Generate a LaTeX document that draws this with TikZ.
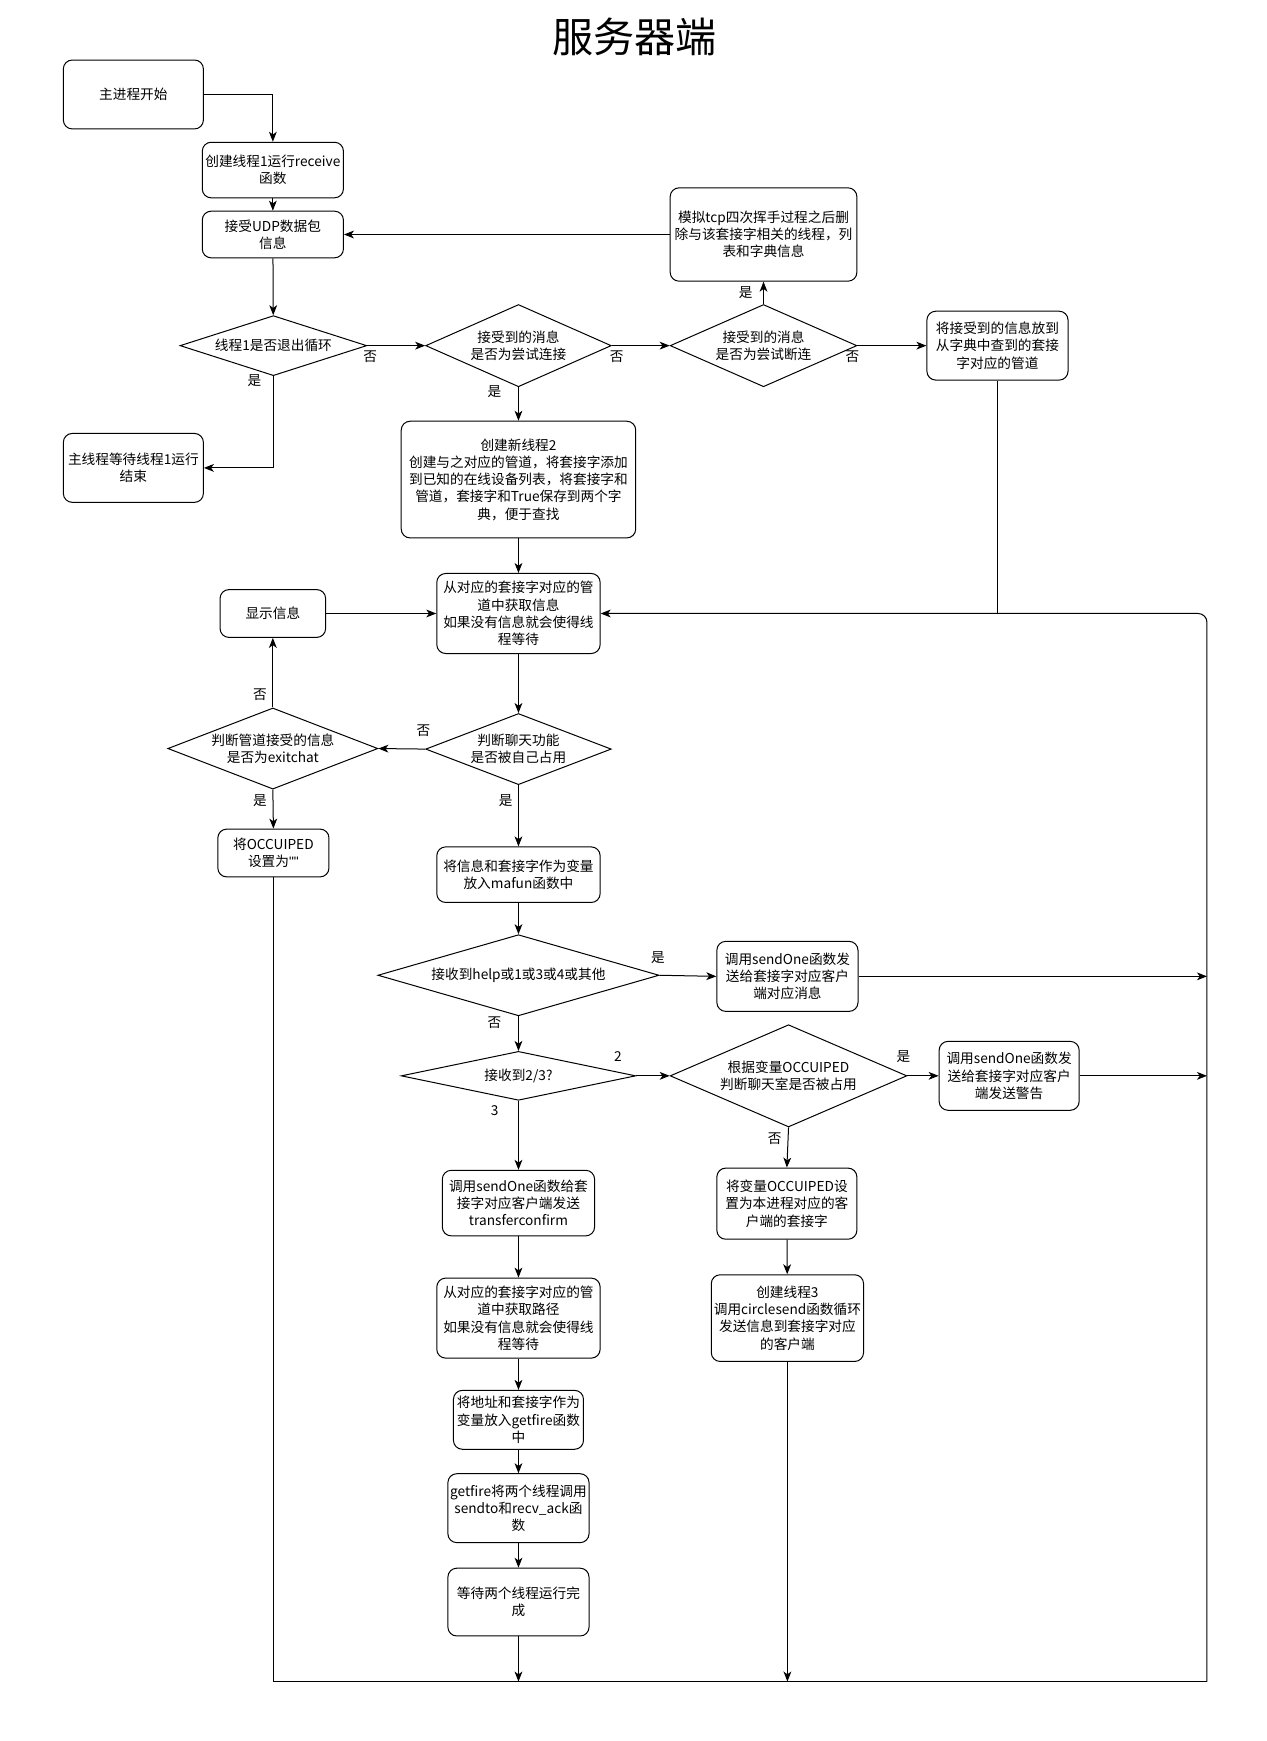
\documentclass[tikz,border=0pt]{standalone}
\usepackage{fontspec}
\setmainfont{Noto Sans CJK SC}
\newfontfamily\latinf{Liberation Sans}
\usetikzlibrary{shapes.geometric,arrows.meta}
\begin{document}
\begin{tikzpicture}[x=1pt,y=-1pt,
  every node/.style={font=\fontsize{12.3}{15.5}\selectfont, align=center},
  box/.style={draw, line width=0.9pt, rounded corners=8pt, inner sep=0pt},
  dia/.style={draw, line width=0.9pt, diamond, inner sep=0pt},
  arr/.style={line width=0.9pt, -{Stealth[length=9pt,width=7pt,inset=2.5pt]}},
  ln/.style={line width=0.9pt},
  lab/.style={inner sep=0pt}]
\useasboundingbox (0,0) rectangle (1140,1566.5);
\node (title) at (571,33) {\fontsize{37}{40}\selectfont 服务器端};

% boxes
\node[box, minimum width=126pt, minimum height=62pt] (n1) at (120,85) {主进程开始};
\node[box, minimum width=127pt, minimum height=50pt] (n2) at (245.5,153) {创建线程1运行receive\\函数};
\node[box, minimum width=127pt, minimum height=42pt] (n3) at (245.5,211) {接受UDP数据包\\信息};
\node[dia, minimum width=168pt, minimum height=54pt, label={[align=center]center:线程1是否退出循环}] (d4) at (246,311) {};
\node[box, minimum width=126pt, minimum height=62pt] (n5) at (120,421) {主线程等待线程1运行\\结束};
\node[dia, minimum width=167pt, minimum height=74pt, label={[align=center]center:接受到的消息\\是否为尝试连接}] (d6) at (466.5,311) {};
\node[dia, minimum width=168pt, minimum height=74pt, label={[align=center]center:接受到的消息\\是否为尝试断连}] (d7) at (687,311) {};
\node[box, minimum width=168pt, minimum height=84pt] (n8) at (687,211) {模拟tcp四次挥手过程之后删\\除与该套接字相关的线程，列\\表和字典信息};
\node[box, minimum width=127pt, minimum height=62pt] (n9) at (897.5,311) {将接受到的信息放到\\从字典中查到的套接\\字对应的管道};
\node[box, minimum width=211pt, minimum height=105pt] (n10) at (466.5,431.5) {创建新线程2\\创建与之对应的管道，将套接字添加\\到已知的在线设备列表，将套接字和\\管道，套接字和True保存到两个字\\典，便于查找};
\node[box, minimum width=147pt, minimum height=72pt] (n11) at (466.5,552) {从对应的套接字对应的管\\道中获取信息\\如果没有信息就会使得线\\程等待};
\node[box, minimum width=95pt, minimum height=43pt] (n12) at (245.5,552) {显示信息};
\node[dia, minimum width=189pt, minimum height=73pt, label={[align=center]center:判断管道接受的信息\\是否为exitchat}] (d13) at (245.5,673.5) {};
\node[dia, minimum width=167pt, minimum height=64pt, label={[align=center]center:判断聊天功能\\是否被自己占用}] (d14) at (466.5,674) {};
\node[box, minimum width=100pt, minimum height=43pt] (n15) at (246,767.5) {将OCCUIPED\\设置为{\latinf ""}};
\node[box, minimum width=147pt, minimum height=50pt] (n16) at (466.5,787) {将信息和套接字作为变量\\放入mafun函数中};
\node[dia, minimum width=253pt, minimum height=73pt, label={[align=center]center:接收到help或1或3或4或其他}] (d17) at (466.5,877.5) {};
\node[box, minimum width=127pt, minimum height=63pt] (n18) at (708.5,878.5) {调用sendOne函数发\\送给套接字对应客户\\端对应消息};
\node[dia, minimum width=211pt, minimum height=44pt, label={[align=center]center:接收到2/3?}] (d19) at (466.5,968) {};
\node[dia, minimum width=213pt, minimum height=92pt, label={[align=center]center:根据变量OCCUIPED\\判断聊天室是否被占用}] (d20) at (709.5,968) {};
\node[box, minimum width=126pt, minimum height=62pt] (n21) at (908,968) {调用sendOne函数发\\送给套接字对应客户\\端发送警告};
\node[box, minimum width=137pt, minimum height=59pt] (n22) at (466.5,1082.5) {调用sendOne函数给套\\接字对应客户端发送\\transferconfirm};
\node[box, minimum width=126pt, minimum height=64pt] (n23) at (708,1083) {将变量OCCUIPED设\\置为本进程对应的客\\户端的套接字};
\node[box, minimum width=147pt, minimum height=72pt] (n24) at (466.5,1186) {从对应的套接字对应的管\\道中获取路径\\如果没有信息就会使得线\\程等待};
\node[box, minimum width=137pt, minimum height=78pt] (n25) at (708.5,1186) {创建线程3\\调用circlesend函数循环\\发送信息到套接字对应\\的客户端};
\node[box, minimum width=117pt, minimum height=53pt] (n26) at (466.5,1277.5) {将地址和套接字作为\\变量放入getfire函数\\中};
\node[box, minimum width=127pt, minimum height=62pt] (n27) at (466.5,1357) {getfire将两个线程调用\\sendto和recv\_ack函\\数};
\node[box, minimum width=127pt, minimum height=61pt] (n28) at (466.5,1441.5) {等待两个线程运行完\\成};

% loop coordinates
\coordinate (bl) at (246,1513);
\coordinate (br) at (1086,1513);
\coordinate (tr) at (1086,552);

% connectors
\draw[arr] (n1.east) -| (n2.north);
\draw[arr] (n2) -- (n3);
\draw[arr] (n3) -- (d4);
\draw[arr] (d4.east) -- (d6.west);
\draw[arr] (d4.south) |- (n5.east);
\draw[arr] (d6.east) -- (d7.west);
\draw[arr] (d6.south) -- (n10.north);
\draw[arr] (d7.north) -- (n8.south);
\draw[arr] (d7.east) -- (n9.west);
\draw[arr] (n8.west) -- (n3.east);
\draw[arr] (n10) -- (n11);
\draw[arr] (n12) -- (n11);
\draw[ln] (n15.south) -- (bl) -- (br);
\draw[arr, rounded corners=8pt] (br) -- (tr) -- (n11.east);
\draw[ln] (n9.south) -- (n9.south |- n11.east);
\draw[arr] (n11) -- (d14);
\draw[arr] (d14.west) -- (d13.east);
\draw[arr] (d14.south) -- (n16.north);
\draw[arr] (d13.north) -- (n12.south);
\draw[arr] (d13.south) -- (n15.north);
\draw[arr] (n16) -- (d17);
\draw[arr] (d17.east) -- (n18.west);
\draw[arr] (n18.east) -- (n18.east -| tr);
\draw[arr] (d17.south) -- (d19.north);
\draw[arr] (d19.east) -- (d20.west);
\draw[arr] (d19.south) -- (n22.north);
\draw[arr] (d20.east) -- (n21.west);
\draw[arr] (n21.east) -- (n21.east -| tr);
\draw[arr] (d20.south) -- (n23.north);
\draw[arr] (n22) -- (n24);
\draw[arr] (n24) -- (n26);
\draw[arr] (n26) -- (n27);
\draw[arr] (n27) -- (n28);
\draw[arr] (n28.south) -- (n28.south |- bl);
\draw[arr] (n23) -- (n25);
\draw[arr] (n25.south) -- (n25.south |- bl);

% edge labels
\node[lab] (l1) at (333,321) {否};
\node[lab] (l2) at (229,342) {是};
\node[lab] (l3) at (555,321) {否};
\node[lab] (l4) at (445,352) {是};
\node[lab] (l5) at (671,263) {是};
\node[lab] (l6) at (767,321) {否};
\node[lab] (l7) at (381,657) {否};
\node[lab] (l8) at (455,720) {是};
\node[lab] (l9) at (234,625) {否};
\node[lab] (l10) at (234,720) {是};
\node[lab] (l11) at (592,862) {是};
\node[lab] (l12) at (445,920) {否};
\node[lab] (l13) at (556,951) {2};
\node[lab] (l14) at (445,999) {3};
\node[lab] (l15) at (813,951) {是};
\node[lab] (l16) at (697,1025) {否};
\end{tikzpicture}
\end{document}
